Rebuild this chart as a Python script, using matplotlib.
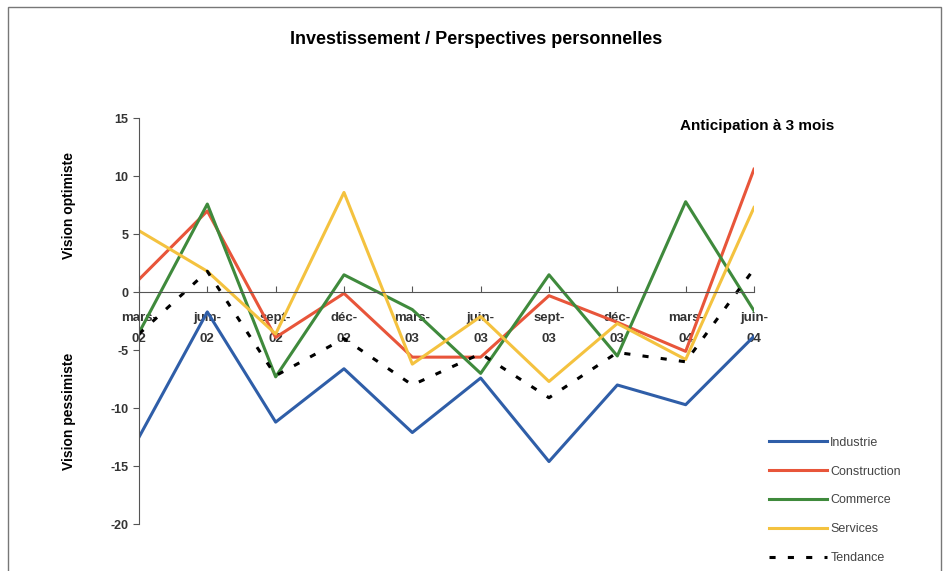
import matplotlib
matplotlib.use("Agg")
import matplotlib.pyplot as plt
from matplotlib.patches import Rectangle

plt.rcParams['font.family'] = ['Liberation Sans', 'DejaVu Sans']
plt.rcParams['axes.unicode_minus'] = False

# data
mois = ["mars-\n02", "juin-\n02", "sept-\n02", "déc-\n02", "mars-\n03",
        "juin-\n03", "sept-\n03", "déc-\n03", "mars-\n04", "juin-\n04"]
industrie = [-12.5, -1.7, -11.2, -6.6, -12.1, -7.4, -14.6, -8.0, -9.7, -3.8]
construction = [1.1, 7.0, -3.9, -0.1, -5.6, -5.6, -0.3, -2.6, -5.1, 10.6]
commerce = [-3.5, 7.6, -7.3, 1.5, -1.5, -7.0, 1.5, -5.5, 7.8, -1.6]
services = [5.3, 1.8, -3.6, 8.6, -6.2, -2.1, -7.7, -2.7, -5.8, 7.3]
tendance = [-3.6, 1.8, -7.2, -4.0, -8.0, -5.3, -9.1, -5.2, -6.0, 2.0]

fig = plt.figure(figsize=(9.52, 5.71), dpi=100)
ax = fig.add_axes([0.146, 0.082, 0.646, 0.711])

x = range(len(mois))
lw = 2.2
ax.plot(x, industrie, color='#2f5ea8', lw=lw, label='Industrie')
ax.plot(x, construction, color='#e8553a', lw=lw, label='Construction')
ax.plot(x, commerce, color='#3f8a3c', lw=lw, label='Commerce')
ax.plot(x, services, color='#f4c23f', lw=lw, label='Services')
ax.plot(x, tendance, color='black', lw=2.2, ls=(0, (2, 4)), label='Tendance')

ax.set_xlim(0, 9)
ax.set_ylim(-20, 15)
ax.set_yticks(range(-20, 16, 5))
ax.set_xticks(list(x))
ax.set_xticklabels(mois)

ax.spines['top'].set_visible(False)
ax.spines['right'].set_visible(False)
ax.spines['bottom'].set_position(('data', 0))
ax.spines['bottom'].set_color('#555555')
ax.spines['left'].set_color('#555555')
ax.tick_params(axis='x', direction='in', length=4, pad=14, color='#555555')
ax.tick_params(axis='y', direction='out', length=4, color='#555555')

for t in ax.get_xticklabels():
    t.set_fontweight('bold')
    t.set_fontsize(9.5)
    t.set_linespacing(2.0)
    t.set_color('#333333')
for t in ax.get_yticklabels():
    t.set_fontweight('bold')
    t.set_fontsize(9)
    t.set_color('#333333')

fig.text(0.5, 0.93, "Investissement / Perspectives personnelles",
         ha='center', va='center', fontsize=13, fontweight='bold')
fig.text(0.795, 0.78, "Anticipation à 3 mois", ha='center', va='center',
         fontsize=11, fontweight='bold')
fig.text(0.072, 0.64, "Vision optimiste", rotation=90, ha='center',
         va='center', fontsize=10, fontweight='bold')
fig.text(0.072, 0.28, "Vision pessimiste", rotation=90, ha='center',
         va='center', fontsize=10, fontweight='bold')

leg = fig.legend(loc='upper left', bbox_to_anchor=(0.796, 0.255),
                 frameon=False, fontsize=9, handlelength=4.6,
                 handletextpad=0.3, labelspacing=1.35)
for t in leg.get_texts():
    t.set_color('#444444')

fig.patches.append(Rectangle((0.008, -0.02), 0.98, 1.008, transform=fig.transFigure,
                             fill=False, edgecolor='#777777', lw=1))

fig.savefig("out.png", dpi=100)
